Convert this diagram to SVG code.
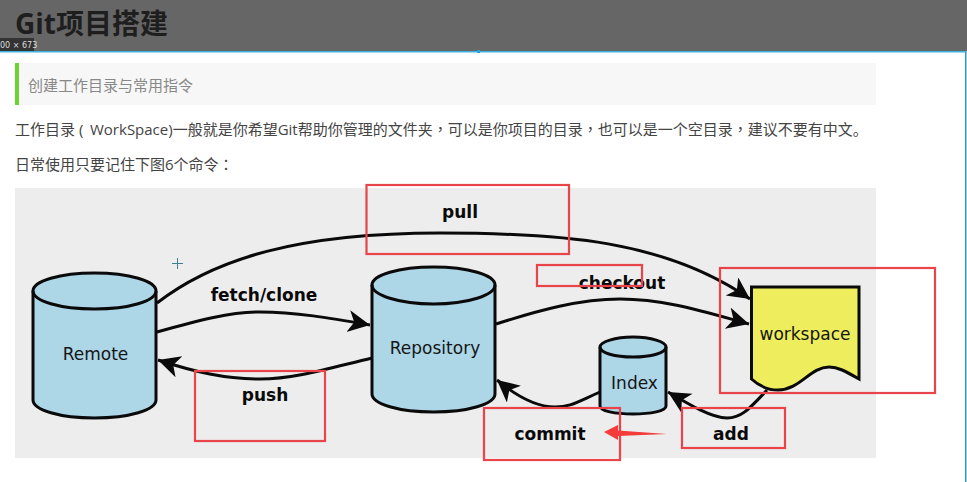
<svg xmlns="http://www.w3.org/2000/svg" width="967" height="482" viewBox="0 0 967 482">
<style>
.cn{font-family:"Open Sans","Noto Sans CJK SC",sans-serif}
.para{font-size:15px;fill:#444}
.tc{font-family:"Noto Sans CJK TC",sans-serif}
.shape{stroke:#0a0a0a;stroke-width:3}
.blue{fill:#add6e7}
.name{font-family:"DejaVu Sans",sans-serif;font-size:17px;fill:#151515;text-anchor:middle}
.lab{font-family:"DejaVu Sans",sans-serif;font-size:17px;font-weight:bold;fill:#0a0a0a;text-anchor:middle}
.con{fill:none;stroke:#0a0a0a;stroke-width:3;marker-end:url(#ah)}
.red{fill:none;stroke:#e8444a;stroke-width:2.200}
</style>
<defs>
<marker id="ah" markerUnits="userSpaceOnUse" markerWidth="24" markerHeight="24" refX="22" refY="11" orient="auto" viewBox="0 0 24 24"><path d="M0 0 L22 11 L0 22 L6 11 Z" fill="#0a0a0a"/></marker>
</defs>
<rect width="967" height="482" fill="#fff"/>
<g id="header">
<rect width="967" height="51" fill="#666"/>
<rect y="51" width="966" height="1.500" fill="#3fb0e0"/>
<rect x="965" y="51" width="1.500" height="431" fill="#2f96c8"/>
<rect x="477" y="50" width="3" height="3" fill="#1fa5e0"/>
<text class="cn" x="15" y="34" font-size="28" font-weight="bold" fill="#1e1e1e">Git项目搭建</text>
<rect y="38" width="34" height="13" fill="#333"/>
<text x="0" y="47.500" font-family="'DejaVu Sans',sans-serif" font-size="8" fill="#ddd">00 × 673</text>
</g>
<g id="intro">
<rect x="15" y="63" width="861" height="42" fill="#f7f7f7"/>
<rect x="15" y="63" width="4" height="42" fill="#6cd132"/>
<text class="cn" x="28" y="91" font-size="15" fill="#888">创建工作目录与常用指令</text>
<text class="cn para" x="15" y="135">工作目录 ( <tspan x="90">WorkSpace)一般就是你希望Git帮助你管理的文件夹</tspan><tspan class="tc">，</tspan>可以是你项目的目录<tspan class="tc">，</tspan>也可以是一个空目录<tspan class="tc">，</tspan>建议不要有中文。</text>
<text class="cn para" x="15" y="170">日常使用只要记住下图6个命令<tspan class="tc">：</tspan></text>
</g>
<rect id="canvas" x="15" y="188" width="861" height="270" fill="#ededed"/>
<g id="connectors">
<path class="con" d="M157 303 C215 258 300 233 440 233 C560 233 665 240 750 299"/>
<path class="con" d="M157 332 C200 320 230 312 260 312 C295 312 330 318 370 325"/>
<path class="con" d="M372 358 C330 368 295 379 260 379 C225 379 195 372 158 360"/>
<path class="con" d="M496 324 C540 310 580 299 620 299 C665 299 705 312 749 324"/>
<path class="con" d="M600 392 C575 403 570 407 555 407 C535 407 515 395 497 380"/>
<path class="con" d="M767 390 C750 408 742 418 727 418 C712 418 690 405 668 392"/>
</g>
<g id="remote">
<path class="shape blue" d="M33 291 V400 C33 410 60 418 94.500 418 C129 418 156 410 156 400 V291 C156 281 129 273 94.500 273 C60 273 33 281 33 291 Z"/>
<path class="shape" fill="none" d="M33 291 C33 301 60 309 94.500 309 C129 309 156 301 156 291"/>
<text class="name" x="95.500" y="359.500">Remote</text>
</g>
<g id="repository">
<path class="shape blue" d="M372 285 V394 C372 404 399 412 433.500 412 C468 412 495 404 495 394 V285 C495 275 468 267 433.500 267 C399 267 372 275 372 285 Z"/>
<path class="shape" fill="none" d="M372 285 C372 295 399 304 433.500 304 C468 304 495 295 495 285"/>
<text class="name" x="435" y="354">Repository</text>
</g>
<g id="index">
<path class="shape blue" d="M600 347 V406 C600 411 615 414 633 414 C651 414 666 411 666 406 V347 C666 342 651 337 633 337 C615 337 600 342 600 347 Z"/>
<path class="shape" fill="none" d="M600 347 C600 353 615 357 633 357 C651 357 666 353 666 347"/>
<text class="name" x="634.500" y="389">Index</text>
</g>
<g id="workspace">
<path class="shape" fill="#eded5e" d="M751.500 287 H859 V379 C845 371 838 367 829 367 C810 367 800 390 778 390 C768 390 758 385 751.500 379 Z"/>
<text class="name" x="805" y="340">workspace</text>
</g>
<g id="labels">
<text class="lab" x="460" y="218">pull</text>
<text class="lab" x="264" y="301">fetch/clone</text>
<text class="lab" x="622" y="288.500">checkout</text>
<text class="lab" x="265" y="401">push</text>
<text class="lab" x="550" y="439.500">commit</text>
<text class="lab" x="731" y="439.500">add</text>
</g>
<g id="annotations">
<rect class="red" x="366.500" y="185" width="202.500" height="69"/>
<rect class="red" x="537" y="265" width="105" height="21"/>
<rect class="red" x="720" y="268" width="215" height="125"/>
<rect class="red" x="195" y="371" width="130" height="70"/>
<rect class="red" x="484" y="408" width="136" height="52"/>
<rect class="red" x="682" y="408" width="103" height="40"/>
<path d="M604 432 L618 425 L618 430.500 L667 434 L618 436 L618 440 Z" fill="#f43a3a"/>
</g>
<g id="cursor" stroke="#3f7f90" stroke-width="1">
<path d="M172 263.500 H183 M177.500 258 V269"/>
</g>
</svg>
